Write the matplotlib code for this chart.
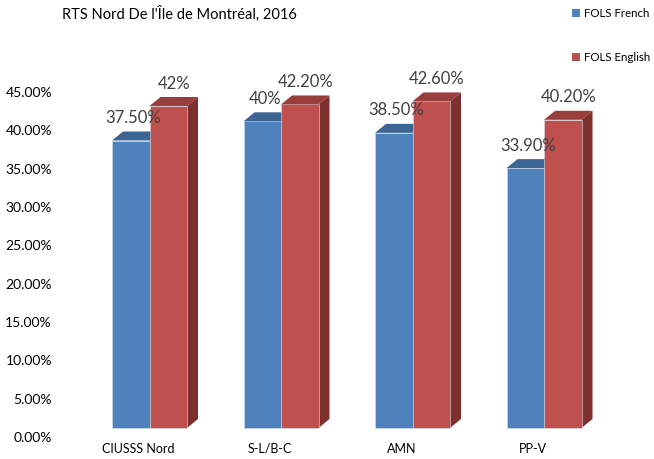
import matplotlib
matplotlib.use("Agg")
import matplotlib.pyplot as plt
from matplotlib.patches import Polygon, Rectangle, Patch

plt.rcParams["font.family"] = ["Lato", "DejaVu Sans"]

# data
categories = ["CIUSSS Nord", "S-L/B-C", "AMN", "PP-V"]
series_names = ["FOLS French", "FOLS English"]
french = [37.5, 40.0, 38.5, 33.9]
english = [42.0, 42.2, 42.6, 40.2]
french_labels = ["37.50%", "40%", "38.50%", "33.90%"]
english_labels = ["42%", "42.20%", "42.60%", "40.20%"]
yticks = [0, 5, 10, 15, 20, 25, 30, 35, 40, 45]

# colours: front, top, side
colors = [("#4F81BD", "#3C6594", "#36597F"),
          ("#C0504D", "#983F3D", "#7D302E")]

W, H = 654, 459
fig = plt.figure(figsize=(W / 100, H / 100), dpi=100)

# axes placed in pixel terms
left_px, right_px, bottom_px, top_px = 70, 620, 437, 92
ax = fig.add_axes([left_px / W, (H - bottom_px) / H,
                   (right_px - left_px) / W, (bottom_px - top_px) / H])
px_per_y = (bottom_px - top_px) / 45.0
px_per_x = 131.5
ax.set_ylim(0, 45)
ax.set_xlim(-(149.5 - left_px) / px_per_x, (right_px - 149.5) / px_per_x)

w = 37.5 / px_per_x      # bar width
dx = 11 / px_per_x       # depth offset x
dy = 9 / px_per_y        # depth offset y
base = 9 / px_per_y      # front face lift
lab_off = 13.5 / px_per_y

for s, (vals, labs) in enumerate([(french, french_labels), (english, english_labels)]):
    front, top, side = colors[s]
    for g, (v, lab) in enumerate(zip(vals, labs)):
        x0 = g - w + s * w
        y0, y1 = base, base + v
        ax.add_patch(Polygon([(x0 + w, y0), (x0 + w + dx, y0 + dy),
                              (x0 + w + dx, y1 + dy), (x0 + w, y1)],
                             closed=True, facecolor=side, edgecolor="none",
                             clip_on=False, zorder=2 + s))
        ax.add_patch(Rectangle((x0, y0), w, v, facecolor=front,
                               edgecolor="#D8E0EA", linewidth=0.4,
                               clip_on=False, zorder=2 + s))
        ax.add_patch(Polygon([(x0, y1), (x0 + w, y1), (x0 + w + dx, y1 + dy),
                              (x0 + dx, y1 + dy)],
                             closed=True, facecolor=top, edgecolor="none",
                             clip_on=False, zorder=2 + s))
        lx = x0 + w / 2 + (dx / 2 if s == 1 else 0.02)
        ax.text(lx, y1 + dy + lab_off, lab, ha="center", va="center",
                fontsize=12, color="#404040", zorder=5, clip_on=False)

for sp in ax.spines.values():
    sp.set_visible(False)
ax.set_yticks(yticks)
ax.set_yticklabels([f"{t:.2f}%" for t in yticks], fontsize=10, color="#000000")
ax.set_xticks([g - 11 / px_per_x for g in range(len(categories))])
ax.set_xticklabels(categories, fontsize=9)
ax.tick_params(length=0)
ax.tick_params(axis="y", pad=13)
ax.tick_params(axis="x", pad=4)
ax.patch.set_visible(False)

fig.text(62 / W, 1 - 14 / H, "RTS Nord De l'Île de Montréal, 2016",
         fontsize=10.5, ha="left", va="center")

handles = [Patch(facecolor=colors[i][0], edgecolor="none", label=series_names[i])
           for i in range(2)]
fig.legend(handles=handles, loc="upper left", bbox_to_anchor=(572 / W, 1 - 8 / H),
           frameon=False, fontsize=8.3, handlelength=0.7, handleheight=0.7,
           handletextpad=0.3, labelspacing=2.9, borderaxespad=0, borderpad=0)

fig.savefig("out.png", dpi=100)
